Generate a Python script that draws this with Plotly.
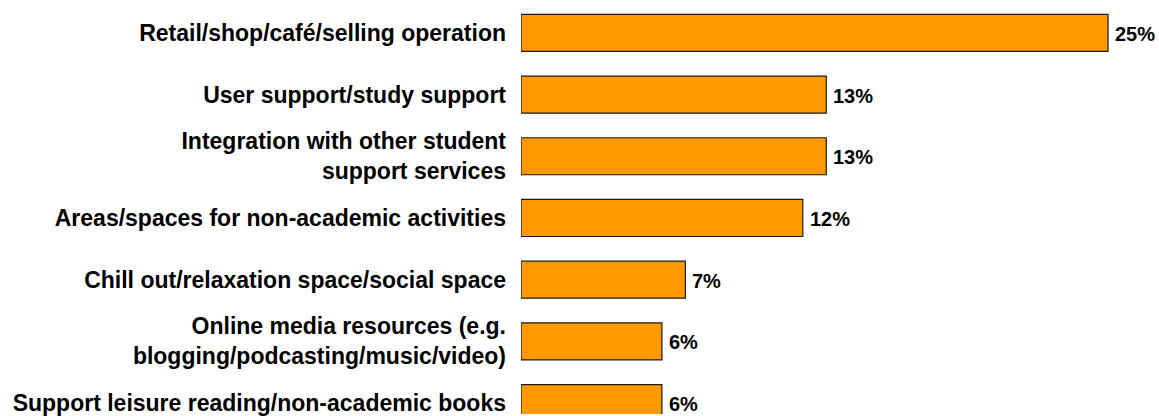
import plotly.graph_objects as go

categories = [
    "Retail/shop/café/selling operation",
    "User support/study support",
    "Integration with other student<br>support services",
    "Areas/spaces for non-academic activities",
    "Chill out/relaxation space/social space",
    "Online media resources (e.g.<br>blogging/podcasting/music/video)",
    "Support leisure reading/non-academic books",
]
values = [25, 13, 13, 12, 7, 6, 6]
value_labels = [f"{v}%" for v in values]

fig = go.Figure()
fig.add_trace(go.Bar(
    x=values,
    y=categories,
    orientation="h",
    marker=dict(color="#FF9900", line=dict(color="#1a1a1a", width=1.2)),
    hoverinfo="skip",
))

for v, c, t in zip(values, categories, value_labels):
    fig.add_annotation(
        x=v, y=c, text=f"<b>{t}</b>", showarrow=False,
        xanchor="left", yanchor="middle", xshift=5, yshift=-1,
        font=dict(family="Liberation Sans, Arial, sans-serif", size=20, color="#000000"),
    )

fig.update_layout(
    width=1159, height=416,
    margin=dict(l=521, r=0, t=2, b=0),
    paper_bgcolor="white", plot_bgcolor="white",
    bargap=0.4,
    showlegend=False,
    font=dict(family="Liberation Sans, Arial, sans-serif", color="#000000"),
)
fig.update_xaxes(range=[0, 27.17], visible=False, showgrid=False, zeroline=False)
fig.update_yaxes(
    type="category",
    categoryorder="array", categoryarray=categories,
    range=[6.177, -0.5],
    showgrid=False, zeroline=False, showline=False,
    ticks="", ticklabelstandoff=14,
    tickfont=dict(family="Liberation Sans, Arial, sans-serif", size=23, color="#000000", weight="bold"),
)

fig.write_html("out.html")
